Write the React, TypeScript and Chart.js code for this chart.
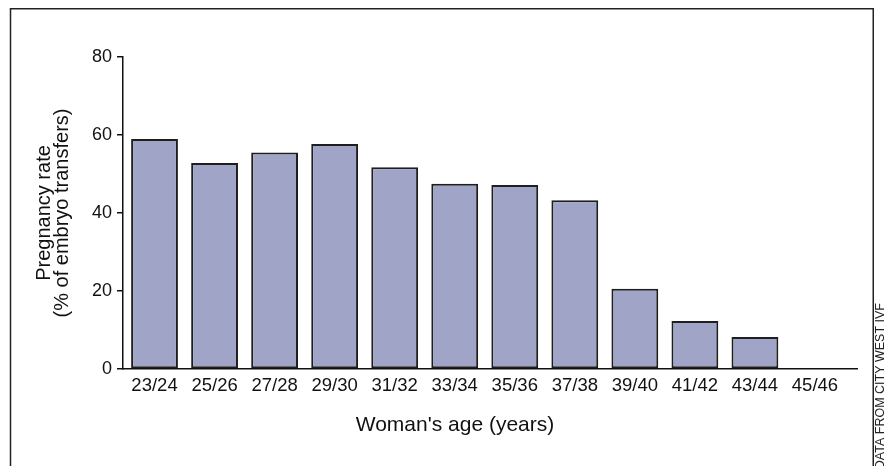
import React, { useEffect, useRef } from 'react';
import { Chart, registerables } from 'chart.js';

Chart.register(...registerables);

const categories = ['23/24', '25/26', '27/28', '29/30', '31/32', '33/34', '35/36', '37/38', '39/40', '41/42', '43/44', '45/46'];
const pregnancyRates = [59, 52.8, 55.5, 57.7, 51.7, 47.5, 47.2, 43.3, 20.6, 12.3, 8.2, 0];
const yTickValues = [0, 20, 40, 60, 80];
const xTitle = "Woman's age (years)";
const yTitle = ['Pregnancy rate', '(% of embryo transfers)'];
const credit = 'DATA FROM CITY WEST IVF';

const FONT = "'Liberation Sans', Arial, Helvetica, sans-serif";
const INK = '#111111';

export default function App() {
  const ref = useRef<HTMLCanvasElement>(null);

  useEffect(() => {
    const canvas = ref.current;
    if (!canvas) return;

    const framePlugin = {
      id: 'frameAndNotes',
      afterDraw(chart: any) {
        const ctx = chart.ctx as CanvasRenderingContext2D;
        ctx.save();
        ctx.strokeStyle = '#222222';
        ctx.lineWidth = 1.5;
        ctx.beginPath();
        ctx.moveTo(10.5, 466);
        ctx.lineTo(10.5, 8.75);
        ctx.lineTo(873.25, 8.75);
        ctx.lineTo(873.25, 466);
        ctx.stroke();

        ctx.fillStyle = INK;
        ctx.font = `21px ${FONT}`;
        ctx.textAlign = 'center';
        ctx.textBaseline = 'middle';
        ctx.fillText(xTitle, 455, 425);

        ctx.translate(880.5, 303);
        ctx.rotate(-Math.PI / 2);
        ctx.font = `12.5px ${FONT}`;
        ctx.textAlign = 'right';
        ctx.fillStyle = '#222222';
        ctx.fillText(credit, 0, 0);
        ctx.restore();
      },
    };

    const chart = new Chart(canvas, {
      type: 'bar',
      data: {
        datasets: [
          {
            data: pregnancyRates.map((v, i) => ({ x: i, y: v })),
            backgroundColor: '#a0a5c8',
            borderColor: '#1e1e1e',
            borderWidth: 2,
            borderSkipped: false,
            barPercentage: 0.78,
            categoryPercentage: 1,
          },
        ],
      },
      options: {
        responsive: false,
        animation: false,
        events: [],
        layout: { padding: { left: 28, right: 30, top: 57, bottom: 0 } },
        plugins: {
          legend: { display: false },
          tooltip: { enabled: false },
          title: { display: false },
        },
        scales: {
          x: {
            type: 'linear',
            offset: false,
            min: -0.525,
            max: 11.7,
            bounds: 'data',
            grid: { display: false, drawTicks: false, offset: false },
            border: { display: true, color: INK, width: 1.5 },
            afterBuildTicks: (s: any) => {
              s.ticks = categories.map((_, i) => ({ value: i }));
            },
            afterFit: (s: any) => {
              s.height = 97;
            },
            ticks: {
              autoSkip: false,
              maxRotation: 0,
              minRotation: 0,
              padding: 6,
              color: INK,
              font: { size: 18.5, family: FONT },
              callback: (v: any) => categories[v] ?? '',
            },
          },
          y: {
            min: 0,
            max: 80,
            afterBuildTicks: (s: any) => {
              s.ticks = yTickValues.map((v) => ({ value: v }));
            },
            afterFit: (s: any) => {
              s.width = 95;
            },
            grid: { drawOnChartArea: false, tickLength: 6, color: INK, lineWidth: 1.5 },
            border: { display: true, color: INK, width: 1.5 },
            ticks: { padding: 5, color: INK, font: { size: 18, family: FONT } },
            title: {
              display: true,
              text: yTitle,
              color: INK,
              font: { size: 20, family: FONT, lineHeight: 0.9 },
              padding: { top: 7, bottom: 0 },
            },
          },
        },
      },
      plugins: [framePlugin],
    } as any);

    return () => chart.destroy();
  }, []);

  return (
    <div style={{ position: 'absolute', left: 0, top: 0, width: 887, height: 466, background: '#ffffff' }}>
      <canvas ref={ref} width={887} height={466} style={{ display: 'block', width: 887, height: 466 }} />
    </div>
  );
}
